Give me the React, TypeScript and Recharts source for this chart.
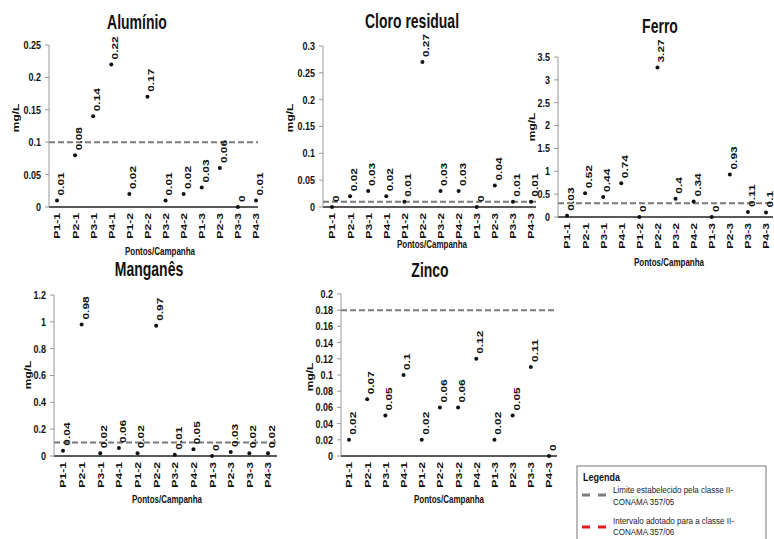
import { LineChart, Line, XAxis, YAxis, ReferenceLine, LabelList } from 'recharts';

// pontos de coleta / campanha
const POINTS = ['P1-1', 'P2-1', 'P3-1', 'P4-1', 'P1-2', 'P2-2', 'P3-2', 'P4-2', 'P1-3', 'P2-3', 'P3-3', 'P4-3'];

const ALUMINIO = [0.01, 0.08, 0.14, 0.22, 0.02, 0.17, 0.01, 0.02, 0.03, 0.06, 0, 0.01];
const CLORO = [0, 0.02, 0.03, 0.02, 0.01, 0.27, 0.03, 0.03, 0, 0.04, 0.01, 0.01];
const FERRO = [0.03, 0.52, 0.44, 0.74, 0, 3.27, 0.4, 0.34, 0, 0.93, 0.11, 0.1];
const MANGANES = [0.04, 0.98, 0.02, 0.06, 0.02, 0.97, 0.01, 0.05, 0, 0.03, 0.02, 0.02];
const ZINCO = [0.02, 0.07, 0.05, 0.1, 0.02, 0.06, 0.06, 0.12, 0.02, 0.05, 0.11, 0];

const ALUMINIO_TICKS = [0, 0.05, 0.1, 0.15, 0.2, 0.25];
const CLORO_TICKS = [0, 0.05, 0.1, 0.15, 0.2, 0.25, 0.3];
const FERRO_TICKS = [0, 0.5, 1, 1.5, 2, 2.5, 3, 3.5];
const MANGANES_TICKS = [0, 0.2, 0.4, 0.6, 0.8, 1, 1.2];
const ZINCO_TICKS = [0, 0.02, 0.04, 0.06, 0.08, 0.1, 0.12, 0.14, 0.16, 0.18, 0.2];

// limites CONAMA 357/05
const ALUMINIO_LIMIT = 0.1;
const CLORO_LIMIT = 0.01;
const FERRO_LIMIT = 0.3;
const MANGANES_LIMIT = 0.1;
const ZINCO_LIMIT = 0.18;

const FONT = "'Liberation Sans', Arial, sans-serif";
const YW = 40;
const MT = 40;
const MR = 14;
const XH = 42;

type PanelProps = {
  title: string;
  values: number[];
  ticks: number[];
  limit: number;
  axisX: number;
  topY: number;
  bottomY: number;
  rightX: number;
  padL: number;
  padR: number;
  titleX: number;
  titleY: number;
  yLabX: number;
  yLabY: number;
  xLabX: number;
  xLabY: number;
};

const XTick = ({ x, y, payload }: any) => (
  <text
    transform={`translate(${x},${y}) rotate(-90) scale(1.28,1)`}
    textAnchor="end"
    dominantBaseline="central"
    fontSize={9.5}
    fontWeight="bold"
    fontFamily={FONT}
    fill="#111"
  >
    {payload.value}
  </text>
);

const YTick = ({ x, y, payload }: any) => (
  <text
    transform={`translate(${x},${y}) scale(1,1.3)`}
    textAnchor="end"
    dominantBaseline="central"
    fontSize={9}
    fontWeight="bold"
    fontFamily={FONT}
    fill="#111"
  >
    {payload.value}
  </text>
);

const ValueLabel = ({ x, y, value }: any) => (
  <text
    transform={`translate(${x + 4},${y - 5}) rotate(-90) scale(1.4,1)`}
    textAnchor="start"
    dominantBaseline="central"
    fontSize={8.5}
    fontWeight="bold"
    fontFamily={FONT}
    fill="#111"
  >
    {value}
  </text>
);

const Panel = (p: PanelProps) => {
  const data = POINTS.map((name, i) => ({ name, v: p.values[i] }));
  const plotW = p.rightX - p.axisX;
  const plotH = p.bottomY - p.topY;
  return (
    <div style={{ position: 'absolute', left: p.axisX - YW, top: p.topY - MT }}>
      <LineChart
        width={YW + plotW + MR}
        height={MT + plotH + XH}
        data={data}
        margin={{ top: MT, right: MR, left: 0, bottom: 0 }}
      >
        <XAxis
          dataKey="name"
          type="category"
          interval={0}
          height={XH}
          padding={{ left: p.padL, right: p.padR }}
          axisLine={{ stroke: '#222', strokeWidth: 1.5 }}
          tickLine={false}
          tickSize={0}
          tickMargin={6}
          tick={<XTick />}
        />
        <YAxis
          type="number"
          width={YW}
          domain={[0, p.ticks[p.ticks.length - 1]]}
          ticks={p.ticks}
          interval={0}
          axisLine={{ stroke: '#999' }}
          tickLine={{ stroke: '#999' }}
          tickSize={4}
          tickMargin={4}
          tick={<YTick />}
        />
        <ReferenceLine y={p.limit} stroke="#7a7a7a" strokeWidth={2} strokeDasharray="6 3" />
        <Line
          dataKey="v"
          stroke="none"
          dot={{ r: 2, fill: '#111', stroke: '#111', strokeWidth: 0 }}
          activeDot={false}
          isAnimationActive={false}
        >
          <LabelList dataKey="v" content={<ValueLabel />} />
        </Line>
      </LineChart>
    </div>
  );
};

const PanelText = (p: PanelProps) => (
  <g fontFamily={FONT} fontWeight="bold" fill="#111">
    <text transform={`translate(${p.titleX},${p.titleY}) scale(1,1.4)`} textAnchor="middle" dominantBaseline="central" fontSize={14}>
      {p.title}
    </text>
    <text transform={`translate(${p.yLabX},${p.yLabY}) rotate(-90) scale(1.4,1)`} textAnchor="middle" dominantBaseline="central" fontSize={8.5}>
      mg/L
    </text>
    <text transform={`translate(${p.xLabX},${p.xLabY}) scale(1,1.3)`} textAnchor="middle" dominantBaseline="central" fontSize={8}>
      Pontos/Campanha
    </text>
  </g>
);

const PANELS: PanelProps[] = [
  {
    title: 'Alumínio', values: ALUMINIO, ticks: ALUMINIO_TICKS, limit: ALUMINIO_LIMIT,
    axisX: 49, topY: 45, bottomY: 207, rightX: 258, padL: 8, padR: 2,
    titleX: 137, titleY: 23, yLabX: 16, yLabY: 118, xLabX: 160, xLabY: 252,
  },
  {
    title: 'Cloro residual', values: CLORO, ticks: CLORO_TICKS, limit: CLORO_LIMIT,
    axisX: 323, topY: 46, bottomY: 207, rightX: 536, padL: 9, padR: 5,
    titleX: 412, titleY: 22, yLabX: 290, yLabY: 118, xLabX: 432, xLabY: 245,
  },
  {
    title: 'Ferro', values: FERRO, ticks: FERRO_TICKS, limit: FERRO_LIMIT,
    axisX: 558, topY: 57, bottomY: 217, rightX: 773, padL: 9, padR: 7,
    titleX: 660, titleY: 27, yLabX: 532, yLabY: 127, xLabX: 669, xLabY: 263,
  },
  {
    title: 'Manganês', values: MANGANES, ticks: MANGANES_TICKS, limit: MANGANES_LIMIT,
    axisX: 54, topY: 295, bottomY: 456, rightX: 277, padL: 9, padR: 9,
    titleX: 149, titleY: 270, yLabX: 28, yLabY: 375, xLabX: 167, xLabY: 500,
  },
  {
    title: 'Zinco', values: ZINCO, ticks: ZINCO_TICKS, limit: ZINCO_LIMIT,
    axisX: 341, topY: 294, bottomY: 456, rightX: 557, padL: 8, padR: 8,
    titleX: 430, titleY: 271, yLabX: 310, yLabY: 377, xLabX: 449, xLabY: 500,
  },
];

const LegendBox = () => (
  <g fontFamily={FONT} fill="#222">
    <rect x={577} y={466} width={189} height={90} fill="#fff" stroke="#777" strokeWidth={1} />
    <text transform="translate(583,477) scale(1,1.25)" dominantBaseline="central" fontSize={9} fontWeight="bold" fill="#111">
      Legenda
    </text>
    <line x1={582} x2={608} y1={495} y2={495} stroke="#7f7f7f" strokeWidth={3} strokeDasharray="8 8" />
    <text transform="translate(613,490) scale(1,1.2)" dominantBaseline="central" fontSize={8}>
      Limite estabelecido pela classe II-
    </text>
    <text transform="translate(613,502) scale(1,1.2)" dominantBaseline="central" fontSize={8}>
      CONAMA 357/05
    </text>
    <line x1={582} x2={608} y1={527} y2={527} stroke="#e8141c" strokeWidth={3} strokeDasharray="8 8" />
    <text transform="translate(613,521) scale(1,1.2)" dominantBaseline="central" fontSize={8}>
      Intervalo adotado para a classe II-
    </text>
    <text transform="translate(613,532) scale(1,1.2)" dominantBaseline="central" fontSize={8}>
      CONAMA 357/06
    </text>
  </g>
);

export default function App() {
  return (
    <div style={{ position: 'absolute', left: 0, top: 0, width: 774, height: 539, overflow: 'hidden', background: '#fff' }}>
      {PANELS.map((p) => (
        <Panel key={p.title} {...p} />
      ))}
      <svg width={774} height={539} style={{ position: 'absolute', left: 0, top: 0, pointerEvents: 'none' }}>
        {PANELS.map((p) => (
          <PanelText key={p.title} {...p} />
        ))}
        <LegendBox />
      </svg>
    </div>
  );
}
